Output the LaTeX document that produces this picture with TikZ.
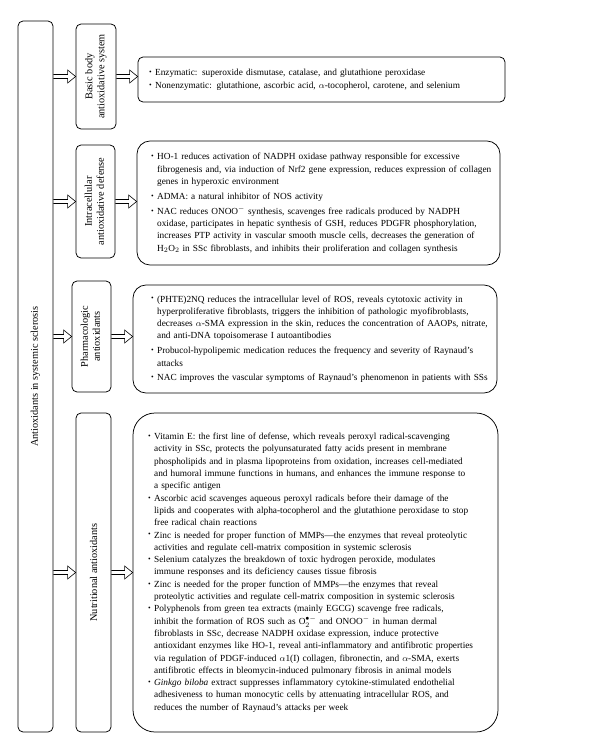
\documentclass[tikz,border=0pt]{standalone}
\usepackage{xcolor}
\usepackage{amsmath}
\usepackage{fontspec}
\setmainfont{Liberation Serif}
\usepackage{tikz}
\usetikzlibrary{calc}

\newcommand{\bul}{\raisebox{1.1pt}{\fontsize{7.5}{8}\selectfont\textbullet}}
\newcommand{\hollowarrow}[2]{%
	\draw[line width=0.6pt] ($(#1)+(0,2)$) -- ($(#2)+(-8,2)$) -- ($(#2)+(-8,6.5)$) -- (#2)
		-- ($(#2)+(-8,-6.5)$) -- ($(#2)+(-8,-2)$) -- ($(#1)+(0,-2)$);}

\begin{document}
\begin{tikzpicture}[x=1pt, y=-1pt,
							every node/.style={draw, line width=0.75pt, inner sep=0pt},
							colbox/.style={rounded corners=5pt, font=\fontsize{10.3}{12}\selectfont},
							textbox/.style={font=\fontsize{9.3}{12.3}\selectfont, align=left}]
			\useasboundingbox (0,0) rectangle (600,753);
			\node[colbox, minimum width=35pt, minimum height=711pt] (root) at (35.5,376.5)
				{\rotatebox{90}{Antioxidants in systemic sclerosis}};
			\node[colbox, minimum width=40pt, minimum height=105pt] (c1) at (96,76.5)
				{\rotatebox{90}{\begin{tabular}{@{}c@{}}Basic body\\antioxidative system\end{tabular}}};
			\node[colbox, minimum width=39pt, minimum height=113pt] (c2) at (95.5,201.5)
				{\rotatebox{90}{\begin{tabular}{@{}c@{}}Intracellular\\antioxidative defense\end{tabular}}};
			\node[colbox, minimum width=39pt, minimum height=111pt] (c3) at (91.5,336.5)
				{\rotatebox{90}{\begin{tabular}{@{}c@{}}Pharmacologic\\antioxidants\end{tabular}}};
			\node[colbox, minimum width=35pt, minimum height=319pt] (c4) at (93.5,572.5)
				{\rotatebox{90}{Nutritional antioxidants}};

			\node[textbox, rounded corners=5pt, inner xsep=11pt, text width=345pt, minimum height=45pt] (d1) at (321.5,79.5) {%
				\begin{tabular}{@{}l@{\hspace{3.5pt}}l@{}}
				\bul & Enzymatic: superoxide dismutase, catalase, and glutathione peroxidase\\
				\bul & Nonenzymatic: glutathione, ascorbic acid, $\alpha$-tocopherol, carotene, and selenium
				\end{tabular}};
			\node[textbox, rounded corners=13pt, inner xsep=14pt, text width=335pt, minimum height=124pt] (d2) at (318.5,203) {%
				\begin{tabular}{@{}l@{\hspace{3.5pt}}l@{}}
				\bul & HO-1 reduces activation of NADPH oxidase pathway responsible for excessive\\
				& fibrogenesis and, via induction of Nrf2 gene expression, reduces expression of collagen\\
				& genes in hyperoxic environment\\[2.5pt]
				\bul & ADMA: a natural inhibitor of NOS activity\\[2.5pt]
				\bul & NAC reduces ONOO$^{-}$ synthesis, scavenges free radicals produced by NADPH\\
				& oxidase, participates in hepatic synthesis of GSH, reduces PDGFR phosphorylation,\\
				& increases PTP activity in vascular smooth muscle cells, decreases the generation of\\
				& H$_2$O$_2$ in SSc fibroblasts, and inhibits their proliferation and collagen synthesis
				\end{tabular}};
			\node[textbox, rounded corners=13pt, inner xsep=18pt, text width=328pt, minimum height=108pt] (d3) at (315,339) {%
				\begin{tabular}{@{}l@{\hspace{3.5pt}}l@{}}
				\bul & (PHTE)2NQ reduces the intracellular level of ROS, reveals cytotoxic activity in\\
				& hyperproliferative fibroblasts, triggers the inhibition of pathologic myofibroblasts,\\
				& decreases $\alpha$-SMA expression in the skin, reduces the concentration of AAOPs, nitrate,\\
				& and anti-DNA topoisomerase I autoantibodies\\[2.5pt]
				\bul & Probucol-hypolipemic medication reduces the frequency and severity of Raynaud's\\
				& attacks\\[2.5pt]
				\bul & NAC improves the vascular symptoms of Raynaud's phenomenon in patients with SSs
				\end{tabular}};
			\node[textbox, rounded corners=22pt, inner xsep=15pt, text width=335pt, minimum height=319pt] (d4) at (315.5,572.5) {%
				\begin{tabular}{@{}l@{\hspace{3.5pt}}l@{}}
				\bul & Vitamin E: the first line of defense, which reveals peroxyl radical-scavenging\\
				& activity in SSc, protects the polyunsaturated fatty acids present in membrane\\
				& phospholipids and in plasma lipoproteins from oxidation, increases cell-mediated\\
				& and humoral immune functions in humans, and enhances the immune response to\\
				& a specific antigen\\
				\bul & Ascorbic acid scavenges aqueous peroxyl radicals before their damage of the\\
				& lipids and cooperates with alpha-tocopherol and the glutathione peroxidase to stop\\
				& free radical chain reactions\\
				\bul & Zinc is needed for proper function of MMPs---the enzymes that reveal proteolytic\\
				& activities and regulate cell-matrix composition in systemic sclerosis\\
				\bul & Selenium catalyzes the breakdown of toxic hydrogen peroxide, modulates\\
				& immune responses and its deficiency causes tissue fibrosis\\
				\bul & Zinc is needed for the proper function of MMPs---the enzymes that reveal\\
				& proteolytic activities and regulate cell-matrix composition in systemic sclerosis\\
				\bul & Polyphenols from green tea extracts (mainly EGCG) scavenge free radicals,\\
				& inhibit the formation of ROS such as O$_2^{\bullet -}$ and ONOO$^{-}$ in human dermal\\
				& fibroblasts in SSc, decrease NADPH oxidase expression, induce protective\\
				& antioxidant enzymes like HO-1, reveal anti-inflammatory and antifibrotic properties\\
				& via regulation of PDGF-induced $\alpha$1(I) collagen, fibronectin, and $\alpha$-SMA, exerts\\
				& antifibrotic effects in bleomycin-induced pulmonary fibrosis in animal models\\
				\bul & \textit{Ginkgo biloba} extract suppresses inflammatory cytokine-stimulated endothelial\\
				& adhesiveness to human monocytic cells by attenuating intracellular ROS, and\\
				& reduces the number of Raynaud's attacks per week
				\end{tabular}};

			\coordinate (s1) at (root.east |- c1.west);
			\coordinate (s2) at (root.east |- c2.west);
			\coordinate (s3) at (root.east |- c3.west);
			\coordinate (s4) at (root.east |- c4.west);
			\coordinate (t1) at (c1.east -| d1.west);
			\coordinate (t2) at (c2.east -| d2.west);
			\coordinate (t3) at (c3.east -| d3.west);
			\coordinate (t4) at (c4.east -| d4.west);
			\hollowarrow{s1}{c1.west}
			\hollowarrow{s2}{c2.west}
			\hollowarrow{s3}{c3.west}
			\hollowarrow{s4}{c4.west}
			\hollowarrow{c1.east}{t1}
			\hollowarrow{c2.east}{t2}
			\hollowarrow{c3.east}{t3}
			\hollowarrow{c4.east}{t4}
		\end{tikzpicture}
\end{document}
